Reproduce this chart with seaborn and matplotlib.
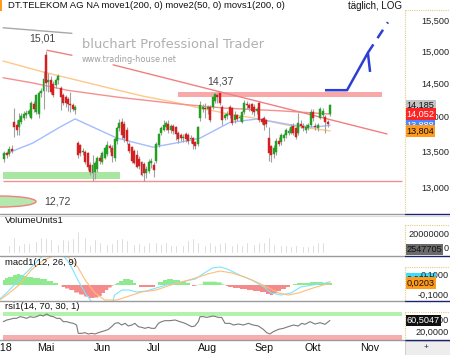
import numpy as np
import pandas as pd
import matplotlib
matplotlib.use("Agg")
from matplotlib import pyplot as plt
from matplotlib import transforms
from matplotlib.lines import Line2D
from matplotlib.patches import Ellipse, Rectangle
import seaborn as sns

# bar index 0 = Mon 2 Apr 2018 (trading days)
bar_idx = list(range(4, 138))
opens = [13.40, 13.48, 13.47, 13.55, 13.93, 13.89, 13.86, 13.93, 14.00, 14.04, 14.06, 14.00, 14.20, 14.08, 14.05, 14.36, 14.40, 14.95,
         14.53, 14.57, 14.50, 14.49, 14.56, 14.45, 14.34, 14.30, 14.28, 14.20, 14.19, 14.11, 13.63, 13.60, 13.50, 13.50, 13.48, 13.32,
         13.20, 13.22, 13.26, 13.42, 13.36, 13.42, 13.47, 13.58, 13.56, 13.42, 13.66, 13.84, 13.93, 13.90, 13.82, 13.62, 13.57, 13.52,
         13.46, 13.40, 13.36, 13.33, 13.20, 13.24, 13.34, 13.32, 13.38, 13.60, 13.77, 13.82, 13.86, 13.90, 13.82, 13.87, 13.86, 13.77,
         13.74, 13.70, 13.76, 13.75, 13.68, 13.70, 13.64, 13.62, 14.00, 14.12, 14.14, 14.12, 14.15, 14.15, 14.25, 14.34, 14.36, 14.15,
         14.00, 14.02, 14.15, 14.14, 13.96, 14.04, 13.99, 13.94, 14.08, 14.20, 14.18, 14.20, 14.16, 14.10, 14.22, 13.98, 13.99, 13.96,
         13.70, 13.58, 13.47, 13.50, 13.66, 13.64, 13.70, 13.74, 13.78, 13.78, 13.88, 13.84, 13.77, 13.90, 13.88, 13.82, 13.85, 13.89,
         14.08, 13.88, 13.85, 14.00, 14.04, 14.01, 13.94, 14.06]
highs = [13.52, 13.52, 13.58, 13.60, 14.14, 13.96, 14.07, 14.07, 14.10, 14.11, 14.13, 14.25, 14.24, 14.35, 14.40, 14.45, 14.70, 15.01,
         14.68, 14.62, 14.55, 14.60, 14.66, 14.48, 14.36, 14.33, 14.30, 14.38, 14.22, 14.18, 13.66, 13.62, 13.56, 13.53, 13.50, 13.36,
         13.46, 13.38, 13.45, 13.46, 13.52, 13.58, 13.66, 13.62, 13.60, 13.72, 13.88, 13.98, 13.99, 13.95, 13.86, 13.65, 13.59, 13.55,
         13.53, 13.45, 13.38, 13.36, 13.30, 13.40, 13.42, 13.36, 13.65, 13.78, 13.88, 13.96, 13.95, 13.96, 13.90, 13.90, 13.88, 13.80,
         13.78, 13.76, 13.79, 13.78, 13.74, 13.72, 13.66, 13.88, 14.25, 14.20, 14.22, 14.18, 14.18, 14.32, 14.37, 14.37, 14.37, 14.18,
         14.07, 14.09, 14.18, 14.16, 14.10, 14.06, 14.04, 14.10, 14.26, 14.25, 14.22, 14.22, 14.20, 14.16, 14.24, 14.00, 14.02, 13.98,
         13.86, 13.60, 13.60, 13.70, 13.72, 13.78, 13.77, 13.85, 13.84, 13.90, 13.92, 13.86, 14.07, 13.96, 13.92, 13.90, 13.92, 14.12,
         14.12, 13.92, 13.92, 14.15, 14.14, 14.04, 13.96, 14.20]
lows = [13.36, 13.42, 13.44, 13.48, 13.72, 13.74, 13.74, 13.90, 13.96, 14.00, 14.02, 13.98, 14.08, 14.06, 14.00, 14.30, 14.12, 14.40,
        14.38, 14.35, 14.30, 14.45, 14.50, 14.11, 14.18, 14.15, 14.10, 14.08, 14.10, 14.05, 13.42, 13.44, 13.46, 13.33, 13.25, 13.18,
        13.09, 13.12, 13.22, 13.33, 13.33, 13.40, 13.44, 13.50, 13.36, 13.38, 13.62, 13.80, 13.68, 13.65, 13.62, 13.48, 13.35, 13.33,
        13.27, 13.26, 13.16, 13.09, 13.14, 13.20, 13.28, 13.15, 13.35, 13.57, 13.74, 13.80, 13.82, 13.78, 13.78, 13.76, 13.67, 13.63,
        13.66, 13.65, 13.64, 13.62, 13.63, 13.55, 13.55, 13.58, 13.95, 14.08, 14.00, 14.05, 13.94, 14.12, 14.22, 14.22, 14.18, 13.89,
        13.96, 13.98, 14.00, 13.89, 13.92, 13.95, 13.95, 13.92, 14.05, 14.12, 14.10, 14.06, 14.02, 14.05, 13.94, 13.90, 13.82, 13.86,
        13.38, 13.36, 13.42, 13.46, 13.58, 13.60, 13.66, 13.70, 13.74, 13.76, 13.74, 13.68, 13.74, 13.84, 13.80, 13.78, 13.82, 13.86,
        13.95, 13.82, 13.80, 13.98, 14.00, 13.77, 13.86, 14.02]
closes = [13.48, 13.46, 13.55, 13.52, 13.86, 13.82, 13.97, 14.03, 14.06, 14.07, 14.10, 14.22, 14.12, 14.34, 14.37, 14.40, 14.58, 14.52,
          14.57, 14.38, 14.34, 14.57, 14.62, 14.30, 14.22, 14.22, 14.20, 14.18, 14.13, 14.15, 13.46, 13.48, 13.52, 13.36, 13.29, 13.22,
          13.32, 13.34, 13.42, 13.38, 13.48, 13.56, 13.60, 13.56, 13.44, 13.68, 13.85, 13.92, 13.75, 13.70, 13.66, 13.52, 13.38, 13.35,
          13.29, 13.30, 13.18, 13.20, 13.26, 13.36, 13.38, 13.25, 13.62, 13.76, 13.85, 13.89, 13.92, 13.82, 13.88, 13.80, 13.76, 13.68,
          13.70, 13.72, 13.68, 13.66, 13.70, 13.61, 13.58, 13.86, 14.18, 14.15, 14.12, 14.15, 13.97, 14.30, 14.35, 14.30, 14.22, 13.97,
          14.04, 14.06, 14.04, 13.92, 14.04, 13.98, 14.01, 14.08, 14.22, 14.18, 14.14, 14.10, 14.08, 14.12, 13.96, 13.94, 13.89, 13.90,
          13.48, 13.46, 13.56, 13.66, 13.62, 13.74, 13.74, 13.82, 13.80, 13.86, 13.78, 13.72, 13.92, 13.88, 13.84, 13.86, 13.89, 14.08,
          13.99, 13.86, 13.89, 14.13, 14.10, 13.93, 13.90, 14.185]
volume_m = [19, 13, 12, 13, 23, 14.5, 12, 17, 14.5, 17, 14.5, 21, 19, 18, 18, 23, 26, 22, 24, 21, 17, 14.5, 13, 16, 21, 21, 19, 16,
            22, 19, 32, 22, 26, 24, 18, 12, 21, 20, 20, 17, 13, 16, 13, 11, 14.5, 27.5, 21, 21, 22, 39, 19, 17, 14.5, 13, 13, 14.5,
            13, 12, 19, 17, 18, 19, 17, 13, 13, 17, 16, 13, 12, 13, 12, 13, 14.5, 12, 17, 19, 14.5, 22, 14.5, 17, 29, 14.5, 12, 14.5,
            17, 13, 12, 13, 14.5, 13, 17, 21, 13, 12, 11, 14.5, 11, 12, 12, 17, 14.5, 10, 13, 11, 17, 22, 17, 14.5, 24, 21, 13, 14.5,
            13, 12, 11, 12, 13, 10, 11, 12, 11, 39, 11, 12, 11, 13, 12, 13, 17, 14.5, 16, 11, 11, 2.547705]

# moving averages
ma_red_idx = [3.5, 15.7, 29.6, 43.1, 51.2, 75.7, 94.1, 116.5, 137]
ma_red_val = [14.60, 14.52, 14.41, 14.34, 14.30, 14.20, 14.14, 14.10, 14.052]
ma_orange_idx = [3.5, 19.8, 29.6, 47.1, 60.6, 74.5, 83.9, 96.1, 105.5, 119.4, 137]
ma_orange_val = [14.86, 14.69, 14.60, 14.44, 14.32, 14.22, 14.14, 14.05, 13.995, 13.89, 13.804]
ma_blue_idx = [3.5, 15.7, 26.7, 32.9, 40.2, 50, 64.7, 75.7, 83.9, 96.1, 107.5, 121.4, 130.8, 137]
ma_blue_val = [13.46, 13.63, 13.86, 13.98, 13.86, 13.70, 13.57, 13.64, 13.70, 13.93, 13.98, 13.89, 13.86, 13.888]

# drawn objects (bar index, price)
trend_red_a = ([21.4, 31.6], [15.03, 14.95])
trend_red_b = ([48.4, 160.2], [14.80, 13.76])
trend_grey = ([3.5, 31.6], [15.39, 15.30])
resist_zone = ([74.9, 158.2], 14.30, 14.385)
support_zone = ([3.5, 51.2], 13.12, 13.22)
support_line = ([3.5, 166.3], 13.09)
proj_solid = ([134.9, 143.9, 152.4, 153.3], [14.41, 14.41, 14.99, 14.69])
proj_dash = ([152.4, 160.6], [14.99, 15.48])
low_label = "12,72"

# macd histogram / lines (bar index, value)
hist_idx = [3.6, 5.0, 6.3, 8.4, 9.7, 11.1, 12.4, 14.5, 17.2, 19.9, 22.7, 25.4, 26.7, 28.1, 29.5, 31.5, 33.5, 35.6, 37.6, 39.7,
            41.7, 43.1, 44.4, 45.8, 47.1, 48.5, 49.9, 51.9, 53.3, 54.6, 56.0, 57.3, 58.3, 59.4, 62.1, 64.8, 65.9, 67.6, 69.6, 71.6,
            74.4, 77.1, 79.1, 80.1, 81.2, 82.5, 83.5, 86.6, 89.3, 92.0, 93.4, 94.8, 96.1, 98.8, 101.6, 104.3, 107.0, 109.7, 111.8,
            113.1, 114.5, 115.8, 117.9, 119.9, 121.3, 122.0, 124.7, 127.4, 130.1, 132.9, 135.6, 137.6]
hist_val = [0.05, 0.073, 0.083, 0.10, 0.107, 0.10, 0.093, 0.083, 0.073, 0.06, 0.04, 0.017, 0.0, -0.02, -0.035, -0.05, -0.075,
            -0.095, -0.115, -0.13, -0.125, -0.11, -0.08, -0.05, -0.025, -0.005, 0.017, 0.04, 0.057, 0.06, 0.05, 0.023, 0.0,
            -0.015, -0.02, -0.015, 0.0, 0.033, 0.05, 0.06, 0.05, 0.033, 0.017, 0.0, -0.01, -0.005, 0.005, 0.033, 0.033, 0.027,
            0.007, -0.005, -0.017, -0.033, -0.04, -0.05, -0.06, -0.073, -0.093, -0.10, -0.083, -0.06, -0.04, -0.017, 0.0, 0.007,
            0.017, 0.023, 0.033, 0.027, 0.023, 0.017]
macd_idx = [2.2, 4.9, 8, 12, 16, 20, 24, 28, 31, 34, 37, 40, 44, 48, 49, 52, 55, 58, 62, 66, 70, 74, 78, 82, 85, 89, 92, 95,
            100, 105, 110, 113, 117, 121, 125, 130, 135, 137]
macd_val = [-0.14, -0.08, 0.0, 0.10, 0.20, 0.30, 0.34, 0.30, 0.20, 0.05, -0.08, -0.18, -0.25, -0.20, -0.10, -0.05, -0.05,
            -0.07, -0.06, -0.03, 0.0, 0.02, 0.04, 0.06, 0.11, 0.17, 0.18, 0.16, 0.10, 0.05, -0.02, -0.08, -0.10, -0.08, -0.02,
            0.0, 0.02, 0.033]
signal_idx = [2.2, 5, 10, 15, 20, 25, 30, 34, 37, 41, 45, 50, 55, 60, 66, 72, 78, 82, 87, 92, 97, 102, 107, 112, 116, 120,
              124, 130, 137]
signal_val = [-0.15, -0.10, 0.0, 0.15, 0.25, 0.30, 0.28, 0.18, 0.05, -0.08, -0.15, -0.15, -0.11, -0.07, -0.05, 0.0, 0.04,
              0.07, 0.11, 0.14, 0.12, 0.08, 0.03, -0.03, -0.08, -0.10, -0.08, -0.03, 0.0203]

# rsi (bar index, value)
rsi_idx = [3.6, 5.0, 6.3, 7.7, 9.0, 10.4, 11.8, 13.1, 14.5, 15.9, 17.2, 18.6, 19.9, 21.3, 22.7, 24.0, 25.4, 26.7, 28.1, 29.5,
           30.8, 32.2, 33.5, 34.2, 35.6, 36.9, 38.3, 39.7, 41.0, 42.4, 43.7, 45.1, 46.5, 47.8, 49.2, 50.5, 51.9, 53.3, 54.6,
           56.0, 57.3, 58.7, 60.1, 61.4, 62.8, 64.1, 65.5, 66.9, 68.2, 69.6, 71.6, 73.7, 75.7, 77.8, 79.1, 80.5, 81.8, 83.2,
           83.9, 85.2, 86.6, 89.3, 91.4, 92.7, 94.1, 96.1, 97.5, 99.5, 101.6, 103.6, 105.6, 107.7, 109.7, 111.1, 112.4, 113.8,
           115.9, 117.9, 119.9, 122.0, 124.0, 125.4, 126.7, 128.8, 130.8, 132.9, 134.9, 136.9]
rsi_val = [56.4, 62.3, 64.6, 68.1, 68.1, 74.0, 71.6, 68.1, 74.0, 71.6, 74.0, 79.9, 76.3, 83.4, 76.3, 74.0, 68.1, 68.1, 56.4,
           56.4, 52.8, 50.5, 44.6, 15.3, 15.3, 17.6, 12.9, 15.3, 12.9, 17.6, 21.2, 24.7, 29.4, 38.8, 50.5, 52.8, 44.6, 50.5,
           41.1, 44.6, 50.5, 38.8, 36.4, 32.9, 36.4, 32.9, 32.9, 50.5, 56.4, 59.9, 59.9, 62.3, 56.4, 50.5, 44.6, 38.8, 41.1,
           56.4, 74.0, 74.0, 71.6, 76.3, 71.6, 71.6, 50.5, 50.5, 44.6, 48.1, 44.6, 50.5, 44.6, 41.1, 29.4, 17.6, 12.9, 21.2,
           29.4, 32.9, 38.8, 44.6, 41.1, 50.5, 47.0, 56.4, 48.1, 52.8, 47.0, 60.5047]

month_idx = [0, 21, 44, 65, 87, 110, 130, 153]
month_lbl = ["Apr '18", "Mai", "Jun", "Jul", "Aug", "Sep", "Okt", "Nov"]
price_ticks = [13.0, 13.5, 14.0, 14.5, 15.0, 15.5]

sns.set_theme(style="white")
plt.rcParams["font.family"] = ["Liberation Sans", "DejaVu Sans"]

W, H = 450, 355
fig = plt.figure(figsize=(W / 100, H / 100), dpi=100)
fig.patch.set_facecolor("white")
XL = (2.245, 167.55)


def panel(y0, y1):
    ax = fig.add_axes([0, 1 - y1 / H, 405 / W, (y1 - y0) / H])
    ax.set_xlim(*XL)
    for s in ax.spines.values():
        s.set_visible(False)
    ax.patch.set_alpha(0)
    return ax


def clear_ticks(ax):
    ax.set_xticks([])
    ax.set_yticks([])
    ax.set_yticks([], minor=True)
    ax.tick_params(which="both", left=False, labelleft=False, bottom=False, labelbottom=False)


def rlabel(ax, y, txt, va="center"):
    tr = transforms.blended_transform_factory(ax.transAxes, ax.transData)
    ax.text(449 / 405, y, txt, transform=tr, ha="right", va=va, fontsize=6.6, color="#222222", clip_on=False)


def vbox(ax, y, txt, fc, tc, dy=0):
    tr = transforms.blended_transform_factory(ax.transAxes, ax.transData)
    tr = transforms.offset_copy(tr, fig=fig, x=0, y=dy, units="points")
    ax.text(1.004, y, txt, transform=tr, ha="left", va="center", fontsize=6.6, color=tc, clip_on=False,
            bbox=dict(boxstyle="square,pad=0.12", fc=fc, ec="none"))


def de(v, n):
    return f"{v:.{n}f}".replace(".", ",")


df = pd.DataFrame({"i": bar_idx, "o": opens, "h": highs, "l": lows, "c": closes, "v": volume_m})

# ---- price panel
ax = panel(12, 213)
ax.set_yscale("log")
ax.set_ylim(12.66, 15.648)
clear_ticks(ax)
ax.fill_between(resist_zone[0], resist_zone[1], resist_zone[2], color="#f7a8a8", lw=0, zorder=1)
ax.fill_between(support_zone[0], support_zone[1], support_zone[2], color="#a9e6a2", lw=0, zorder=1)
ax.hlines(support_line[1], *support_line[0], color="#f29090", lw=1, zorder=1)
sns.lineplot(x=ma_orange_idx, y=ma_orange_val, ax=ax, color="#ffc88a", lw=1, zorder=2)
sns.lineplot(x=ma_red_idx, y=ma_red_val, ax=ax, color="#f59090", lw=1, zorder=2)
sns.lineplot(x=ma_blue_idx, y=ma_blue_val, ax=ax, color="#a4bcff", lw=1, zorder=2)
ax.plot(*trend_red_a, color="#f08080", lw=1, zorder=2)
ax.plot(*trend_red_b, color="#f08080", lw=1, zorder=2)
ax.plot(*trend_grey, color="#a8a8a8", lw=1, zorder=2)
clear_ticks(ax)

up = df.c >= df.o
ax.vlines(df.i, df.l, df.h, color="#a0a0a0", lw=0.8, zorder=3)
ax.bar(df.i[up], (df.c - df.o)[up], bottom=df.o[up], width=0.8, color="#22a022", ec="#22a022", lw=0.3, zorder=4)
ax.bar(df.i[~up], (df.o - df.c)[~up], bottom=df.c[~up], width=0.8, color="#d42020", ec="#d42020", lw=0.3, zorder=4)

ax.plot(*proj_solid, color="#2d3ed4", lw=1.8, zorder=5, solid_capstyle="butt")
ax.plot(*proj_dash, color="#2d3ed4", lw=1.8, ls=(0, (4, 3)), zorder=5)

hi = df.loc[df.h.idxmax()]
ax.text(hi.i - 1.5, hi.h * 1.014, de(hi.h, 2), ha="center", va="center", fontsize=7.6, color="#444444")
sub = df[(df.i > 70) & (df.i < 110)]
hi2 = sub.loc[sub.h.idxmax()]
ax.text(hi2.i + 2.0, hi2.h * 1.0125, de(hi2.h, 2), ha="center", va="center", fontsize=7.6, color="#444444")
ax.add_patch(Ellipse((0, 0.057), 0.178, 0.055, transform=ax.transAxes, fc="#b5e8ad", ec="#f08080", lw=1, clip_on=True))
ax.text(57 / 405, 0.057, low_label, transform=ax.transAxes, ha="center", va="center", fontsize=7.6, color="#444444")

ax.text(82 / 405, 0.836, "bluchart Professional Trader", transform=ax.transAxes, ha="left", va="center",
        fontsize=9.4, color="#b0b0b0", family="DejaVu Sans")
ax.text(82 / 405, 0.766, "www.trading-house.net", transform=ax.transAxes, ha="left", va="center",
        fontsize=5.9, color="#a0a0a0", family="DejaVu Sans")

for t in price_ticks:
    rlabel(ax, t, de(t, 3))
vbox(ax, closes[-1], de(closes[-1], 3), "#c4c4c4", "#111111")
vbox(ax, ma_red_val[-1], de(ma_red_val[-1], 3), "#ff2424", "white")
vbox(ax, ma_blue_val[-1], de(ma_blue_val[-1], 3), "#4a86ff", "white")
vbox(ax, ma_orange_val[-1], de(ma_orange_val[-1], 3), "#ff9a1a", "#111111")

# ---- volume panel
axv = panel(216, 255.7)
axv.set_ylim(-3.5, 54)
axv.bar(df.i, df.v, width=0.6, color="#c9c9c9", zorder=2)
clear_ticks(axv)
axv.text(0.012, 0.88, "VolumeUnits1", transform=axv.transAxes, fontsize=6.8, va="center", color="#111111")
rlabel(axv, 20, "20000000", va="bottom")
rlabel(axv, 0, "0", va="bottom")
vbox(axv, 0, f"{volume_m[-1] * 1e6:.0f}", "#6a6a6a", "#111111", dy=3)

# ---- macd panel
axm = panel(256, 301)
axm.set_ylim(-0.16, 0.29)
hv = np.array(hist_val)
axm.fill_between(hist_idx, 0, hv, where=hv >= 0, step="mid", color="#8fea8f", lw=0, interpolate=True)
axm.fill_between(hist_idx, 0, hv, where=hv <= 0, step="mid", color="#f58a8a", lw=0, interpolate=True)
sns.lineplot(x=macd_idx, y=macd_val, ax=axm, color="#7ae6ff", lw=0.8)
sns.lineplot(x=signal_idx, y=signal_val, ax=axm, color="#ffbd78", lw=0.8)
clear_ticks(axm)
axm.text(0.012, 0.86, "macd1(12, 26, 9)", transform=axm.transAxes, fontsize=6.8, va="center", color="#111111")
rlabel(axm, -0.1, "-0,1000")
vbox(axm, macd_val[-1], de(macd_val[-1], 4), "#38dcff", "#111111", dy=2)
rlabel(axm, 0.1, "0,1000")
vbox(axm, signal_val[-1], de(signal_val[-1], 4), "#ff9a1a", "#111111")

# ---- rsi panel
axr = panel(301, 340)
axr.set_ylim(-8.2, 129.2)
axr.fill_between([3.5, 166.3], 76.3, 90.4, color="#b2f2ad", lw=0)
axr.fill_between([3.5, 166.3], -8.2, 9.4, color="#f7aeae", lw=0)
sns.lineplot(x=rsi_idx, y=rsi_val, ax=axr, color="#7a7a7a", lw=0.8)
clear_ticks(axr)
axr.text(0.012, 0.87, "rsi1(14, 70, 30, 1)", transform=axr.transAxes, fontsize=6.8, va="center", color="#111111")
rlabel(axr, 60, "60,0000")
rlabel(axr, 20, "20,0000")
vbox(axr, rsi_val[-1], de(rsi_val[-1], 4), "#111111", "white")

# month labels
trm = transforms.blended_transform_factory(axr.transData, axr.transAxes)
for mi, ml in zip(month_idx, month_lbl):
    axr.text(mi, -0.205, ml, transform=trm, ha="center", va="center", fontsize=7.7, color="#111111", clip_on=False)

# header + frame decorations
fig.text(8 / W, 1 - 6 / H, "DT.TELEKOM AG NA move1(200, 0) move2(50, 0) movs1(200, 0)", fontsize=6.8,
         va="center", ha="left", color="#111111")
fig.text(402 / W, 1 - 6 / H, "täglich, LOG", fontsize=7.0, va="center", ha="right", color="#111111")
fig.add_artist(Rectangle((0, 1 - 11 / H), 2 / W, 11 / H, transform=fig.transFigure, color="#ff9a1a", lw=0))
for y in [213.5, 255.7, 300.8, 340.3]:
    fig.add_artist(Line2D([0, 405 / W], [1 - y / H] * 2, color="#9a9a9a", lw=1))
    fig.add_artist(Line2D([405 / W, 1], [1 - y / H] * 2, color="#1c2470", lw=1))
fig.add_artist(Line2D([0, 1], [1 - 216 / H] * 2, color="#dddddd", lw=0.8))
for y0, y1 in [(10, 213), (225, 255), (267, 300), (312, 340)]:
    fig.add_artist(Line2D([405 / W] * 2, [1 - y0 / H, 1 - y1 / H], color="#e3cc86", lw=0.8, ls=(0, (1, 1))))
    fig.add_artist(Line2D([405 / W, 1], [1 - y0 / H] * 2, color="#e3cc86", lw=0.8, ls=(0, (1, 1))))
fig.add_artist(Rectangle((405 / W, 0), 45 / W, 14.5 / H, transform=fig.transFigure, fc="#ededed", ec="#c8c8c8", lw=0.6))
fig.text(426 / W, 7 / H, "+", fontsize=6, ha="center", va="center", color="#1c2470")

fig.savefig("out.png", dpi=100)
